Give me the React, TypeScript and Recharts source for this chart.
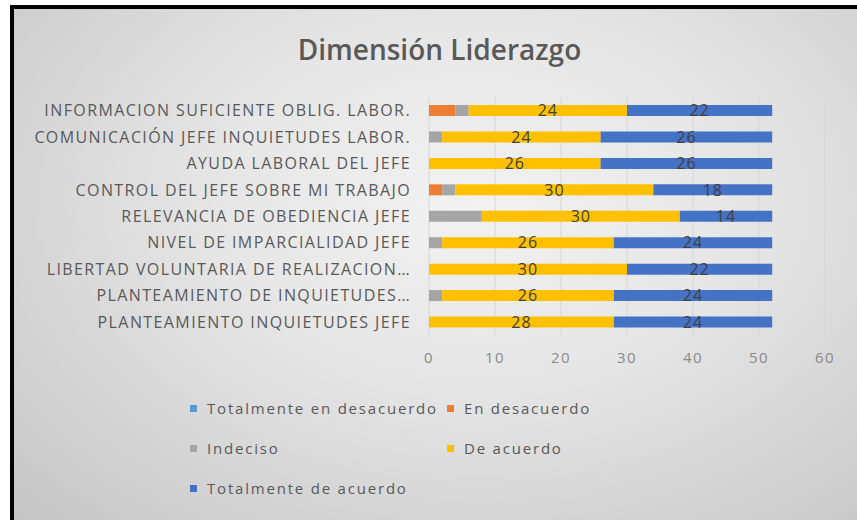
import React from "react";
import { BarChart, Bar, XAxis, YAxis, CartesianGrid, Legend, LabelList } from "recharts";

const categories = [
  "INFORMACION SUFICIENTE OBLIG. LABOR.",
  "COMUNICACIÓN JEFE INQUIETUDES LABOR.",
  "AYUDA LABORAL DEL JEFE",
  "CONTROL DEL JEFE SOBRE MI TRABAJO",
  "RELEVANCIA DE OBEDIENCIA JEFE",
  "NIVEL DE IMPARCIALIDAD JEFE",
  "LIBERTAD VOLUNTARIA DE REALIZACION…",
  "PLANTEAMIENTO DE INQUIETUDES…",
  "PLANTEAMIENTO INQUIETUDES JEFE",
];
const totalmenteDesacuerdo = [0, 0, 0, 0, 0, 0, 0, 0, 0];
const enDesacuerdo = [4, 0, 0, 2, 0, 0, 0, 0, 0];
const indeciso = [2, 2, 0, 2, 8, 2, 0, 2, 0];
const deAcuerdo = [24, 24, 26, 30, 30, 26, 30, 26, 28];
const totalmenteAcuerdo = [22, 26, 26, 18, 14, 24, 22, 24, 24];
const xTicks = [0, 10, 20, 30, 40, 50, 60];

const seriesNames = [
  "Totalmente en desacuerdo",
  "En desacuerdo",
  "Indeciso",
  "De acuerdo",
  "Totalmente de acuerdo",
];
const seriesColors = ["#5B9BD5", "#ED7D31", "#A5A5A5", "#FFC000", "#4472C4"];

const data = categories.map((name, i) => ({
  name,
  s0: totalmenteDesacuerdo[i],
  s1: enDesacuerdo[i],
  s2: indeciso[i],
  s3: deAcuerdo[i],
  s4: totalmenteAcuerdo[i],
}));

const FONT = "'Open Sans', 'Liberation Sans', sans-serif";

const YTick = (props: any) => {
  const { x, y, payload } = props;
  return (
    <text x={x} y={y} textAnchor="end" dominantBaseline="central" fill="#595959"
      style={{ fontFamily: FONT, fontSize: 16, letterSpacing: 1.4 }}>
      {payload.value}
    </text>
  );
};

const XTick = (props: any) => {
  const { x, y, payload } = props;
  return (
    <text x={x} y={y} textAnchor="middle" dominantBaseline="central" fill="#8a8a8a"
      style={{ fontFamily: FONT, fontSize: 15, letterSpacing: 1.5 }}>
      {payload.value}
    </text>
  );
};

const LegendContent = (props: any) => {
  const payload = [...(props.payload || [])].sort(
    (a: any, b: any) => seriesNames.indexOf(a.value) - seriesNames.indexOf(b.value)
  );
  const positions = [
    { left: 0, top: 0 },
    { left: 257, top: 0 },
    { left: 0, top: 40 },
    { left: 257, top: 40 },
    { left: 0, top: 80 },
  ];
  return (
    <div style={{ position: "relative", width: 420, height: 0 }}>
      {payload.map((entry: any, i: number) => (
        <div key={i} style={{ position: "absolute", left: positions[i].left, top: positions[i].top,
          display: "flex", alignItems: "center", whiteSpace: "nowrap",
          fontFamily: FONT, fontSize: 15, letterSpacing: 1.8, color: "#595959", lineHeight: "20px" }}>
          <span style={{ display: "inline-block", width: 7, height: 7, background: entry.color, marginRight: 10 }} />
          <span>{entry.value}</span>
        </div>
      ))}
    </div>
  );
};

export default function App() {
  return (
    <div style={{ position: "absolute", left: 0, top: 0, width: 857, height: 521, background: "#ffffff", overflow: "hidden" }}>
      <div style={{ position: "absolute", left: 10, top: 5, width: 847, height: 515, boxSizing: "border-box",
        borderLeft: "4px solid #000", borderTop: "4px solid #000",
        background: "radial-gradient(ellipse at 55% 38%, #f2f2f2 0%, #e6e6e6 40%, #c5c5c5 100%)" }}>
        <div style={{ position: "absolute", left: 0, top: 0, width: 843, height: 511 }}>
          <div style={{ position: "absolute", left: 0, width: 843, top: 21, textAlign: "center",
            fontFamily: FONT, fontWeight: 600, fontSize: 28, color: "#595959", paddingLeft: 4 }}>
            Dimensión Liderazgo
          </div>
          <BarChart width={843} height={511} data={data} layout="vertical"
            margin={{ top: 88, right: 32, bottom: 155, left: 15 }} barSize={11}>
            <CartesianGrid horizontal={false} vertical={true} stroke="#d6d6d6" />
            <XAxis type="number" domain={[0, 60]} ticks={xTicks} axisLine={false} tickLine={false}
              tickSize={0} tickMargin={22} height={30} tick={<XTick />} interval={0} />
            <YAxis type="category" dataKey="name" width={400} axisLine={false} tickLine={false}
              tickSize={0} tickMargin={18} tick={<YTick />} interval={0} />
            <Legend content={<LegendContent />}
              wrapperStyle={{ position: "absolute", left: 176, top: 389, width: 420, height: 0, overflow: "visible" }} />
            {seriesNames.map((n, i) => (
              <Bar key={n} dataKey={"s" + i} name={n} stackId="a" fill={seriesColors[i]} isAnimationActive={false}>
                {i >= 3 ? (
                  <LabelList dataKey={"s" + i} position="center" fill="#404040"
                    style={{ fontFamily: FONT, fontSize: 16, letterSpacing: 1 }} />
                ) : null}
              </Bar>
            ))}
          </BarChart>
        </div>
      </div>
    </div>
  );
}
